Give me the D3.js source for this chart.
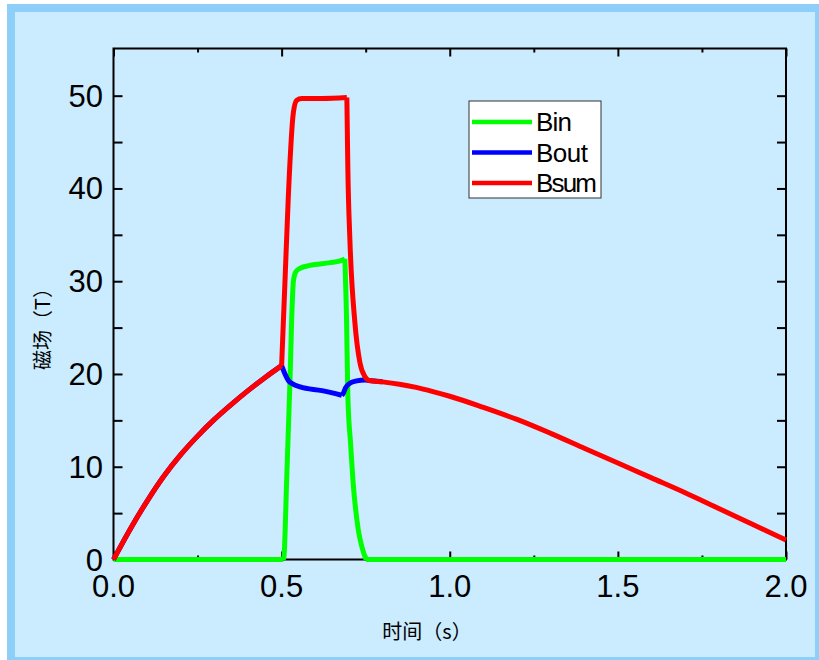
<!DOCTYPE html>
<html>
<head>
<meta charset="utf-8">
<script src="https://cdn.jsdelivr.net/npm/d3@7"></script>
<style>
  body { margin: 0; background: #fff; }
  text { font-family: "Liberation Sans", Arial, sans-serif; fill: #000; }
  .cjk { font-family: "Noto Sans CJK SC", sans-serif; }
</style>
</head>
<body>
<script>
// data (time in s, field in T)
var sumT = [0, 0.05, 0.1, 0.15, 0.2, 0.25, 0.3, 0.35, 0.4, 0.45, 0.5, 0.51, 0.52, 0.535, 0.545, 0.56, 0.62, 0.694, 0.697, 0.703, 0.718, 0.733, 0.748, 0.76, 0.8, 0.85, 0.9, 0.95, 1.0, 1.1, 1.2, 1.3, 1.4, 1.5, 1.6, 1.7, 1.8, 1.9, 2.0];
var sumB = [0, 3.3, 6.3, 9.0, 11.3, 13.3, 15.1, 16.7, 18.2, 19.6, 20.9, 30.0, 39.2, 48.2, 49.5, 49.7, 49.7, 49.8, 42.0, 34.5, 25.5, 21.2, 19.7, 19.3, 19.15, 18.9, 18.55, 18.1, 17.6, 16.4, 15.1, 13.6, 12.0, 10.4, 8.8, 7.2, 5.5, 3.8, 2.1];
var sumCorners = [0.5, 0.694];

var outT = [0, 0.05, 0.1, 0.15, 0.2, 0.25, 0.3, 0.35, 0.4, 0.45, 0.5, 0.51, 0.52, 0.534, 0.555, 0.62, 0.679, 0.683, 0.69, 0.703, 0.723, 0.748, 0.76, 0.8];
var outB = [0, 3.3, 6.3, 9.0, 11.3, 13.3, 15.1, 16.7, 18.2, 19.6, 20.9, 20.0, 19.3, 18.9, 18.6, 18.2, 17.7, 17.9, 18.5, 19.0, 19.25, 19.35, 19.3, 19.15];
var outCorners = [0.5, 0.679];

var inT = [0, 0.505, 0.507, 0.515, 0.52, 0.525, 0.53, 0.535, 0.542, 0.555, 0.584, 0.644, 0.674, 0.688, 0.693, 0.697, 0.705, 0.712, 0.728, 0.74, 0.751, 1.0, 2.0];
var inB = [0, 0, 0.3, 8.6, 14.0, 19.4, 26.0, 30.0, 31.0, 31.4, 31.7, 32.0, 32.2, 32.4, 26.0, 17.6, 12.5, 8.6, 3.2, 1.2, 0, 0, 0];
var inCorners = [0.505, 0.688, 0.751];

var xMajor = [0, 0.5, 1.0, 1.5, 2.0];
var xMinor = [0.25, 0.75, 1.25, 1.75];
var yMajor = [0, 10, 20, 30, 40, 50];
var yMinor = [5, 15, 25, 35, 45];

var seriesNames = ["Bin", "Bout", "Bsum"];
var seriesColors = ["#00ff00", "#0000ff", "#ff0000"];

var svg = d3.select("body").append("svg")
  .attr("width", 819)
  .attr("height", 660);

// frame
svg.append("rect").attr("x", 7).attr("y", 4).attr("width", 812).attr("height", 656).attr("fill", "#8ecffa");
svg.append("rect").attr("x", 15).attr("y", 12).attr("width", 800).attr("height", 645).attr("fill", "#cbebfe");

var pLeft = 113.5, pRight = 786, pTop = 48.5, pBottom = 559.5;

var x = d3.scaleLinear().domain([0, 2]).range([pLeft, pRight]);
var y = d3.scaleLinear().domain([0, 55]).range([pBottom, 49.3]);

var line = d3.line()
  .x(function (d) { return x(d[0]); })
  .y(function (d) { return y(d[1]); })
  .curve(d3.curveMonotoneX);

// axes: ticks pointing inward on all four sides
var g = svg.append("g");
g.append("g").attr("transform", "translate(0," + pBottom + ")")
  .call(d3.axisBottom(x).tickValues(xMajor).tickSize(-8).tickFormat(""));
g.append("g").attr("transform", "translate(0," + pBottom + ")")
  .call(d3.axisBottom(x).tickValues(xMinor).tickSize(-4).tickFormat(""));
g.append("g").attr("transform", "translate(0," + pTop + ")")
  .call(d3.axisTop(x).tickValues(xMajor).tickSize(-8).tickFormat(""));
g.append("g").attr("transform", "translate(0," + pTop + ")")
  .call(d3.axisTop(x).tickValues(xMinor).tickSize(-4).tickFormat(""));
g.append("g").attr("transform", "translate(" + pLeft + ",0)")
  .call(d3.axisLeft(y).tickValues(yMajor.concat(yMinor)).tickSize(-9).tickFormat(""));
g.append("g").attr("transform", "translate(" + pRight + ",0)")
  .call(d3.axisRight(y).tickValues(yMajor.concat(yMinor)).tickSize(-9).tickFormat(""));
g.selectAll(".domain").remove();
g.selectAll(".tick line").attr("stroke", "#000").attr("stroke-width", 2);

svg.append("rect")
  .attr("x", pLeft).attr("y", pTop)
  .attr("width", pRight - pLeft).attr("height", pBottom - pTop)
  .attr("fill", "none").attr("stroke", "#000").attr("stroke-width", 2);

// tick labels
svg.selectAll(".xl").data(xMajor).enter().append("text")
  .attr("x", function (d) { return x(d); })
  .attr("y", 597)
  .attr("text-anchor", "middle")
  .style("font-size", "31px")
  .text(function (d) { return d.toFixed(1); });

svg.selectAll(".yl").data(yMajor).enter().append("text")
  .attr("x", 103)
  .attr("y", function (d) { return y(d) + 11; })
  .attr("text-anchor", "end")
  .style("font-size", "31px")
  .text(function (d) { return d; });

// axis titles
svg.append("text").attr("class", "cjk")
  .attr("x", 427).attr("y", 639)
  .attr("text-anchor", "middle")
  .style("font-size", "20px")
  .text("时间（s）");

svg.append("text").attr("class", "cjk")
  .attr("transform", "translate(50,324) rotate(-90)")
  .attr("text-anchor", "middle")
  .style("font-size", "20px")
  .text("磁场（T）");

// split a series at its sharp corners so each piece is smoothed separately
function pieces(ts, bs, corners) {
  var pts = d3.zip(ts, bs), out = [], cur = [];
  pts.forEach(function (p) {
    cur.push(p);
    if (corners.indexOf(p[0]) >= 0) { out.push(cur); cur = [p]; }
  });
  if (cur.length > 1) out.push(cur);
  return out;
}

var series = [
  pieces(inT, inB, inCorners),
  pieces(outT, outB, outCorners),
  pieces(sumT, sumB, sumCorners)
];

series.forEach(function (segs, i) {
  svg.append("path")
    .attr("d", segs.map(function (s) { return line(s); }).join(""))
    .attr("fill", "none")
    .attr("stroke", seriesColors[i])
    .attr("stroke-width", 5)
    .attr("stroke-linejoin", "round");
});

// legend
var legend = svg.append("g");
legend.append("rect")
  .attr("x", 469).attr("y", 101).attr("width", 132).attr("height", 97)
  .attr("fill", "#fff").attr("stroke", "#333").attr("stroke-width", 1);
var items = legend.selectAll(".item").data(seriesNames).enter().append("g")
  .attr("transform", function (d, i) { return "translate(0," + (122 + i * 30.5) + ")"; });
items.append("line")
  .attr("x1", 472).attr("x2", 532)
  .attr("stroke", function (d, i) { return seriesColors[i]; })
  .attr("stroke-width", 4.5);
items.append("text")
  .attr("x", 536).attr("y", 9)
  .style("font-size", "26px")
  .attr("textLength", function (d) { return d === "Bin" ? 36 : d === "Bout" ? 52 : 61; })
  .text(function (d) { return d; });
</script>
</body>
</html>
